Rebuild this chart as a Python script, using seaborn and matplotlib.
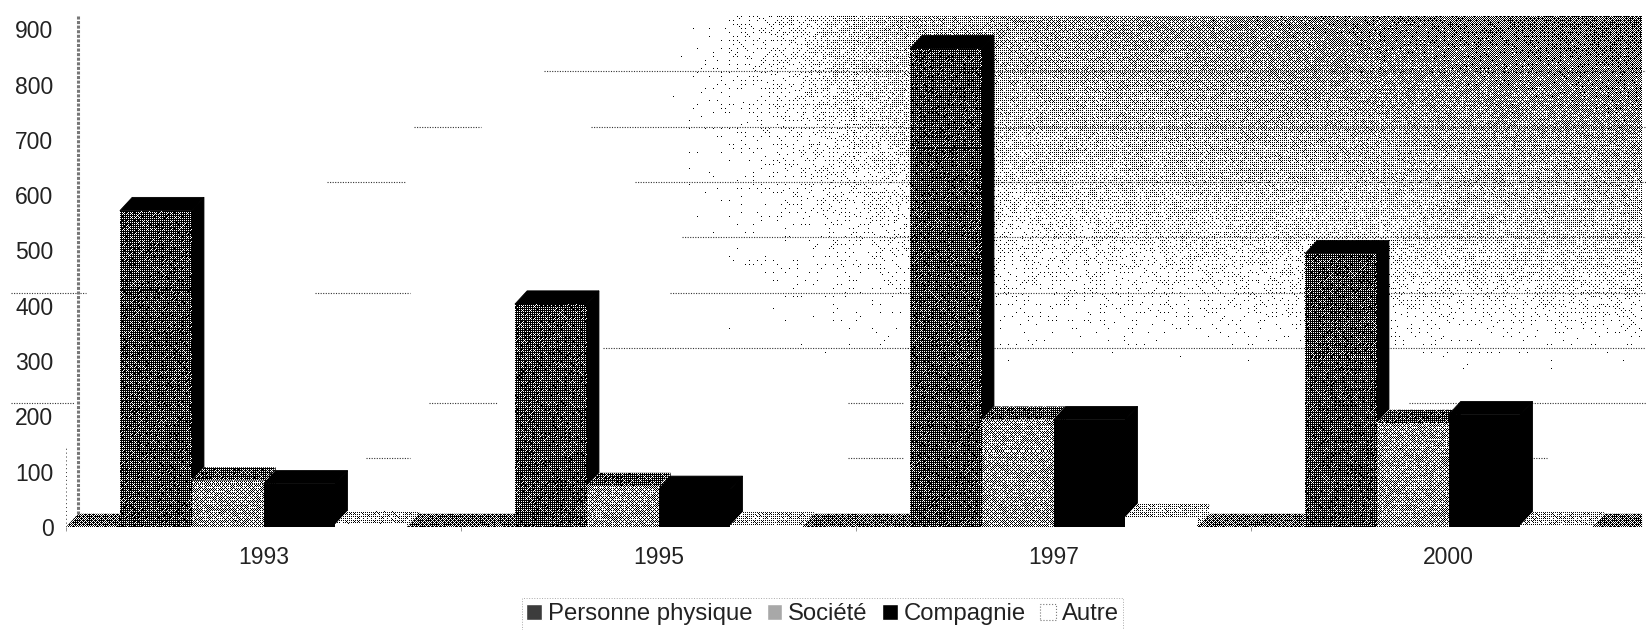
import numpy as np
import pandas as pd
import matplotlib
matplotlib.use('Agg')
import matplotlib.pyplot as plt
from matplotlib.patches import Polygon
import seaborn as sns

years = ['1993', '1995', '1997', '2000']
series = ['Personne physique', 'Société', 'Compagnie', 'Autre']
personne = [572, 403, 865, 494]
societe = [84, 74, 194, 188]
compagnie = [78, 68, 194, 203]
autre = [5, 3, 18, 3]
y_ticks = [0, 100, 200, 300, 400, 500, 600, 700, 800, 900]

# fragments de grille: (valeur, debut, fin)
grid_parts = [(800, 0.71, 3.5), (700, 0.38, 0.55), (700, 0.83, 3.5),
              (600, 0.16, 0.36), (600, 0.94, 3.5), (500, 1.06, 3.5),
              (400, -0.64, -0.45), (400, 0.13, 0.37), (400, 1.03, 3.5), (300, 0.86, 3.5),
              (200, -0.64, -0.48), (200, 0.42, 0.59), (200, 1.48, 1.62), (200, 2.9, 3.5),
              (100, 0.26, 0.37), (100, 1.48, 1.62), (100, 3.13, 3.25)]

W, H = 1646, 630
left, right, top, bottom = 66, 1646, 16, 527

sns.set_theme(style='white')
plt.rcParams['font.family'] = ['Liberation Sans', 'DejaVu Sans']

df = pd.DataFrame({
    'annee': years * 4,
    'type': [s for s in series for _ in years],
    'valeur': personne + societe + compagnie + autre,
})

fig = plt.figure(figsize=(W / 100, H / 100), dpi=100)
ax = fig.add_axes([left / W, 1 - bottom / H, (right - left) / W, (bottom - top) / H])

sns.barplot(data=df, x='annee', y='valeur', hue='type', order=years, hue_order=series,
            palette=['#3c3c3c', '#a8a8a8', 'black', 'white'], width=0.727, gap=0,
            saturation=1, ax=ax, errorbar=None)

xlim = (-0.5, 3.49)
ylim = (0, 924)
dx = 0.031
dy = 24

# trame (dither) en noir et blanc: grille de Bayer + un peu de grain de photocopie
bayer = np.array([[0, 32, 8, 40, 2, 34, 10, 42],
                  [48, 16, 56, 24, 50, 18, 58, 26],
                  [12, 44, 4, 36, 14, 46, 6, 38],
                  [60, 28, 52, 20, 62, 30, 54, 22],
                  [3, 35, 11, 43, 1, 33, 9, 41],
                  [51, 19, 59, 27, 49, 17, 57, 25],
                  [15, 47, 7, 39, 13, 45, 5, 37],
                  [63, 31, 55, 23, 61, 29, 53, 21]]) / 64 + 1 / 128
nx, ny = right - left, bottom - top
jj, ii = np.meshgrid(np.arange(ny), np.arange(nx), indexing='ij')
grain = np.sin(ii * 12.9898 + jj * 78.233) * 43758.5453
grain = grain - np.floor(grain)
thresh = 0.82 * np.tile(bayer, (ny // 8 + 1, nx // 8 + 1))[:ny, :nx] + 0.18 * grain


def stipple(level, zorder, clip):
    img = (thresh >= level).astype(float)
    im = ax.imshow(img, cmap='gray', vmin=0, vmax=1, extent=(*xlim, *ylim), origin='upper',
                   aspect='auto', interpolation='nearest', zorder=zorder)
    im.set_clip_path(clip)


def face(points, color, level, zorder):
    edge = color if level is None else 'none'
    poly = Polygon(points, closed=True, facecolor=color, edgecolor=edge, lw=0.6, zorder=zorder)
    ax.add_patch(poly)
    if level is not None:
        stipple(level, zorder, poly)


# mur du fond en degrade
px, py = np.meshgrid(np.arange(nx) + left, np.arange(ny) + top)
horiz = np.clip((px - 665) / 260, 0, 1) * (0.55 + 0.45 * np.clip((px - 945) / 690, 0, 1))
vert = np.clip((378 - py) / 360, 0, 1)
wall = Polygon([(xlim[0] + dx, dy), (xlim[1], dy), (xlim[1], ylim[1]), (xlim[0] + dx, ylim[1])],
               closed=True, facecolor='white', edgecolor='none', zorder=0.5)
ax.add_patch(wall)
im = ax.imshow((thresh >= 0.62 * horiz * vert).astype(float), cmap='gray', vmin=0, vmax=1,
               extent=(*xlim, *ylim), origin='upper', aspect='auto',
               interpolation='nearest', zorder=0.6)
im.set_clip_path(wall)

# grille et sol
for v, x0, x1 in grid_parts:
    ax.plot([x0, x1], [v + dy, v + dy], color='#333333', lw=0.8, ls=(0, (1, 1.3)), zorder=0.8,
            clip_on=False)
face([(xlim[0], 0), (xlim[0] + dx, dy), (xlim[1], dy), (xlim[1], 0)], 'white', 0.6, 1)
ax.plot([xlim[0] + dx] * 2, [dy, ylim[1]], color='#777777', lw=2.2, ls=(0, (1, 0.5)), zorder=1)
ax.plot([xlim[0]] * 2, [0, dy * 6], color='#333333', lw=0.7, ls=(0, (1, 3)), zorder=1)

# faces des barres: chaque serie passe devant la precedente
front_level = [0.7, 0.42, None, None]
top_style = [('black', None), ('white', 0.68), ('black', None), ('white', 0.3)]
side_style = [('black', None), ('white', 0.68), ('black', None), ('white', 0.3)]
for i, cont in enumerate(ax.containers):
    for bar in cont:
        x0, x1 = bar.get_x(), bar.get_x() + bar.get_width()
        h = bar.get_height()
        z = 2 + i
        face([(x1, 0), (x1 + dx, dy), (x1 + dx, h + dy), (x1, h)],
             side_style[i][0], side_style[i][1], z)
        face([(x0, h), (x0 + dx, h + dy), (x1 + dx, h + dy), (x1, h)],
             top_style[i][0], top_style[i][1], z)
        bar.set_zorder(z + 0.1)
        if series[i] == 'Compagnie':
            bar.set_edgecolor('black')
            bar.set_linewidth(0.8)
        else:
            bar.set_edgecolor('none')
        if front_level[i] is not None:
            stipple(front_level[i], z + 0.2, bar)

ax.set_xlim(*xlim)
ax.set_ylim(*ylim)
ax.set_xlabel('')
ax.set_ylabel('')
ax.set_yticks(y_ticks)
ax.set_xticks(range(len(years)))
ax.set_xticklabels(years)
ax.set_xticks([-0.5, 0.5, 1.5, 2.5, 3.5], minor=True)
ax.tick_params(axis='y', length=0, labelsize=16.5, labelcolor='#222222', pad=9)
ax.tick_params(axis='x', which='major', length=0, labelsize=16.5, labelcolor='#222222', pad=14)
ax.tick_params(axis='x', which='minor', length=3, width=0.6, color='#888888', bottom=True)
sns.despine(ax=ax, left=True, bottom=True, top=True, right=True)
ax.set_facecolor('white')
ax.grid(False)

handles, labels = ax.get_legend_handles_labels()
if ax.get_legend() is not None:
    ax.get_legend().remove()
leg = fig.legend(handles, labels, ncol=4, loc='center', bbox_to_anchor=(0.4997, 0.0255),
                 fontsize=17.2, frameon=True, fancybox=False, framealpha=1, edgecolor='#aaaaaa',
                 handlelength=0.65, handleheight=0.65, handletextpad=0.25, columnspacing=0.6,
                 borderpad=0.2, borderaxespad=0, labelcolor='#222222')
leg.get_frame().set_linestyle(':')
leg.get_frame().set_linewidth(0.7)
leg.legend_handles[3].set_edgecolor('#777777')
leg.legend_handles[3].set_linestyle(':')
leg.legend_handles[3].set_linewidth(0.8)

fig.savefig('out.png', dpi=100, facecolor='white')
